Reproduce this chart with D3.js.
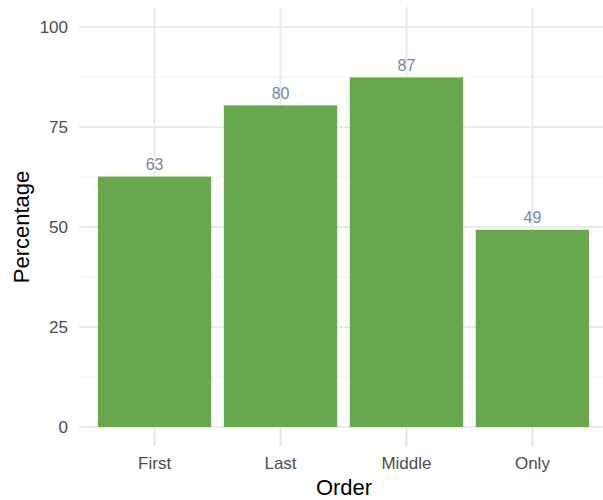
<!DOCTYPE html>
<html><head><meta charset="utf-8">
<script src="https://cdn.jsdelivr.net/npm/d3@7"></script>
<style>body{margin:0;background:#fff}svg{display:block}</style>
</head><body>
<script>
const categories = ["First", "Last", "Middle", "Only"];
const values = [62.6, 80.4, 87.4, 49.3];
const yTicks = [0, 25, 50, 75, 100];
const yMinor = [12.5, 37.5, 62.5, 87.5];

const W = 603, H = 500;
const m = {left: 79, right: -5, top: 27, bottom: 73};
const svg = d3.select("body").append("svg").attr("width", W).attr("height", H);
const font = "Liberation Sans, Arial, sans-serif";

const y = d3.scaleLinear().domain([0, 100]).range([H - m.bottom, m.top]);
const step = (W - m.right - m.left) / 4.2;
const x = d3.scaleBand().domain(categories)
  .range([m.left + 0.6 * step - step / 2, m.left + 3.6 * step + step / 2])
  .paddingInner(0.1).paddingOuter(0.05);

const g = svg.append("g");
// minor grid
g.selectAll(".minor").data(yMinor).enter().append("line")
  .attr("x1", m.left).attr("x2", W).attr("y1", d => y(d)).attr("y2", d => y(d))
  .attr("stroke", "#f3f3f3").attr("stroke-width", 1.2);
// major grid
g.selectAll(".majory").data(yTicks).enter().append("line")
  .attr("x1", m.left).attr("x2", W).attr("y1", d => y(d)).attr("y2", d => y(d))
  .attr("stroke", "#ebebeb").attr("stroke-width", 2);
g.selectAll(".majorx").data(categories).enter().append("line")
  .attr("x1", d => x(d) + x.bandwidth() / 2).attr("x2", d => x(d) + x.bandwidth() / 2)
  .attr("y1", 7).attr("y2", y(0))
  .attr("stroke", "#ebebeb").attr("stroke-width", 2);

// bars
g.selectAll(".bar").data(categories).enter().append("rect")
  .attr("x", d => x(d)).attr("width", x.bandwidth())
  .attr("y", (d, i) => y(values[i])).attr("height", (d, i) => y(0) - y(values[i]))
  .attr("fill", "#68a74e");

// value labels
g.selectAll(".lab").data(categories).enter().append("text")
  .attr("x", d => x(d) + x.bandwidth() / 2).attr("y", (d, i) => y(values[i]) - 6.5)
  .attr("text-anchor", "middle").attr("font-family", font).attr("font-size", 16)
  .attr("fill", "#778899").text((d, i) => Math.round(values[i]));

// x axis
const xa = svg.append("g").attr("transform", `translate(0,${y(0)})`)
  .call(d3.axisBottom(x).tickSize(18).tickPadding(12));
xa.select(".domain").remove();
xa.selectAll("line").attr("stroke", "#e3e3e3").attr("stroke-width", 2).attr("transform", "translate(0,1)");
xa.selectAll("text").attr("font-family", font).attr("font-size", 17).attr("fill", "#4d4d4d");

// y axis
const ya = svg.append("g").attr("transform", `translate(${m.left},0)`)
  .call(d3.axisLeft(y).tickValues(yTicks).tickSize(0).tickPadding(11));
ya.select(".domain").remove();
ya.selectAll("text").attr("font-family", font).attr("font-size", 17).attr("fill", "#4d4d4d");

// titles
svg.append("text").attr("x", 344).attr("y", 495)
  .attr("text-anchor", "middle").attr("font-family", font).attr("font-size", 22)
  .attr("fill", "#000").text("Order");
svg.append("text").attr("transform", `translate(29,${(y(0) + y(100)) / 2}) rotate(-90)`)
  .attr("text-anchor", "middle").attr("font-family", font).attr("font-size", 22)
  .attr("fill", "#000").text("Percentage");
</script>
</body></html>
